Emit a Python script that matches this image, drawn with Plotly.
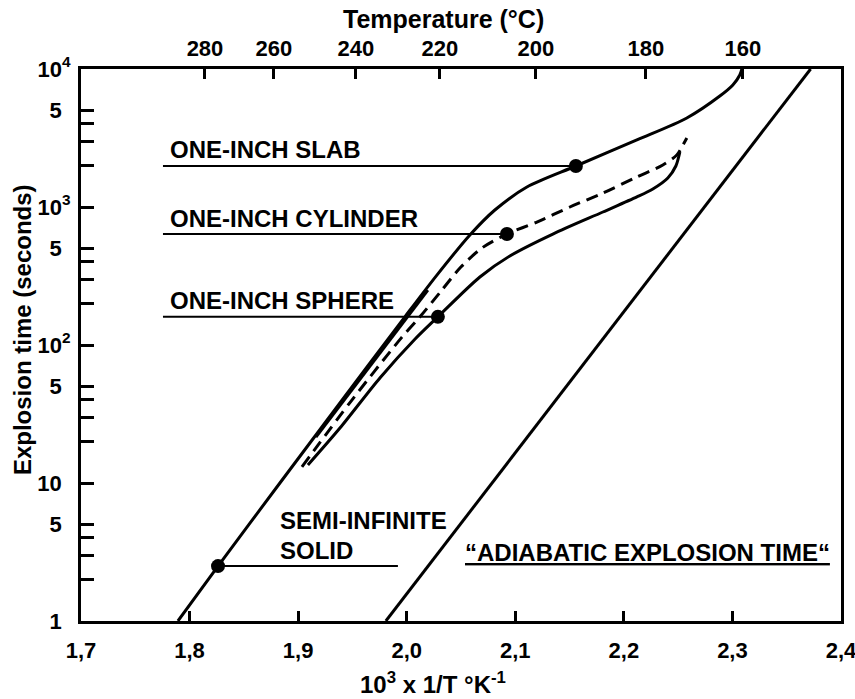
import plotly.graph_objects as go

# ---------------- data (x = 10^3/T in K^-1, y = explosion time in s) ----------------
slab_x = [1.7893, 1.8262, 1.8832, 1.9385, 1.9983, 2.0278, 2.0582, 2.0812, 2.1107,
          2.1558, 2.2120, 2.2580, 2.2884, 2.3004, 2.3068, 2.3087]
slab_t = [1.0, 2.5, 10.0, 38, 160, 321, 627, 951, 1396,
          1982, 3060, 4416, 6370, 7660, 9050, 10000]

cyl_x = [1.9035, 1.9495, 1.9956, 2.0122, 2.0324, 2.0499, 2.0692, 2.0923, 2.1199,
         2.1503, 2.1807, 2.2120, 2.2359, 2.2488, 2.2534, 2.2580]
cyl_t = [13.1, 39.9, 114, 160, 250, 367, 504, 637, 778,
         1000, 1262, 1650, 2016, 2381, 2720, 3162]

sph_x = [1.9090, 1.9385, 1.9753, 2.0075, 2.0287, 2.0674, 2.0950, 2.1346, 2.1807,
         2.2120, 2.2267, 2.2405, 2.2479, 2.2516]
sph_t = [13.5, 25.0, 57.7, 110, 160, 311, 442, 637, 920,
         1182, 1350, 1622, 1982, 2504]

short_x = [1.9164, 2.0195]
short_t = [21.5, 250]

adiab_x = [1.9808, 2.3720]
adiab_t = [1, 10000]

dot_names = ["ONE-INCH SLAB", "ONE-INCH CYLINDER", "ONE-INCH SPHERE", "SEMI-INFINITE SOLID"]
dot_x = [2.1558, 2.0923, 2.0287, 1.8262]
dot_t = [1982, 637, 160, 2.5]
label_line_x0 = [1.7755, 1.7755, 1.7755, 1.8262]
label_line_x1 = [2.1558, 2.0923, 2.0287, 1.9919]

x_ticks = [1.7, 1.8, 1.9, 2.0, 2.1, 2.2, 2.3, 2.4]
x_ticktext = ["1,7", "1,8", "1,9", "2,0", "2,1", "2,2", "2,3", "2,4"]

top_temps = ["280", "260", "240", "220", "200", "180", "160"]
top_pos = [1.8142, 1.8777, 1.9532, 2.0306, 2.1190, 2.2203, 2.3096]

PAD = "\u2009\u2009"
y_ticks = [1, 2, 3, 4, 5, 10, 20, 30, 40, 50, 100, 200, 300, 400, 500,
           1000, 2000, 3000, 4000, 5000, 10000]
y_ticktext = ["1" + PAD, "", "", "", "5" + PAD, "10" + PAD, "", "", "", "5" + PAD,
              "10<sup>2</sup>", "", "", "", "5" + PAD,
              "10<sup>3</sup>", "", "", "", "5" + PAD, "10<sup>4</sup>"]

FONT = "Liberation Sans, Arial, Helvetica, sans-serif"

fig = go.Figure()

curve = dict(color="black", width=3, shape="spline", smoothing=0.8)
fig.add_trace(go.Scatter(x=slab_x, y=slab_t, mode="lines", line=curve, hoverinfo="skip"))
fig.add_trace(go.Scatter(x=cyl_x, y=cyl_t, mode="lines",
                         line=dict(color="black", width=3, shape="spline", smoothing=0.8,
                                   dash="12px,7px"), hoverinfo="skip"))
fig.add_trace(go.Scatter(x=sph_x, y=sph_t, mode="lines", line=curve, hoverinfo="skip"))
fig.add_trace(go.Scatter(x=short_x, y=short_t, mode="lines",
                         line=dict(color="black", width=3), hoverinfo="skip"))
fig.add_trace(go.Scatter(x=adiab_x, y=adiab_t, mode="lines",
                         line=dict(color="black", width=3), hoverinfo="skip"))

# label leader lines
for x0, x1, t in zip(label_line_x0, label_line_x1, dot_t):
    fig.add_trace(go.Scatter(x=[x0, x1], y=[t, t], mode="lines",
                             line=dict(color="black", width=2), hoverinfo="skip"))

fig.add_trace(go.Scatter(x=dot_x, y=dot_t, mode="markers", text=dot_names,
                         marker=dict(color="black", size=14), hoverinfo="text"))

# invisible trace to carry the top (temperature) axis
fig.add_trace(go.Scatter(x=top_pos, y=[1] * len(top_pos), xaxis="x2", mode="markers",
                         marker=dict(opacity=0), hoverinfo="skip"))

axis_common = dict(showgrid=False, zeroline=False, ticks="inside", tickwidth=3,
                   tickcolor="black", linecolor="black", linewidth=3,
                   ticklabeloverflow="allow", automargin=False,
                   tickfont=dict(family=FONT, size=22, color="black", weight="bold"))

fig.update_layout(
    width=855, height=699,
    margin=dict(l=81, r=14, t=69, b=78, autoexpand=False),
    plot_bgcolor="white", paper_bgcolor="white",
    showlegend=False,
    font=dict(family=FONT, size=22, color="black", weight="bold"),
    xaxis=dict(range=[1.7, 2.4], tickvals=x_ticks, ticktext=x_ticktext,
               showline=True, mirror=True, ticklen=10, ticklabelstandoff=8,
               **axis_common),
    xaxis2=dict(range=[1.7, 2.4], overlaying="x", side="top", tickvals=top_pos,
                ticktext=top_temps, showline=False, ticklen=10, ticklabelstandoff=8,
                **axis_common),
    yaxis=dict(type="log", range=[0, 4], tickvals=y_ticks, ticktext=y_ticktext,
               showline=True, mirror=True, ticklen=13, ticklabelstandoff=3,
               **axis_common),
)

lab_font = dict(family=FONT, size=24, color="black", weight="bold")
annots = [
    dict(text="<b>ONE-INCH SLAB</b>", x=1.7801, y=3.417),
    dict(text="<b>ONE-INCH CYLINDER</b>", x=1.7801, y=2.920),
    dict(text="<b>ONE-INCH SPHERE</b>", x=1.7801, y=2.319),
    dict(text="<b>SEMI-INFINITE</b>", x=1.8814, y=0.725),
    dict(text="<b>SOLID</b>", x=1.8814, y=0.514),
    dict(text="<b><u>“ADIABATIC EXPLOSION TIME“</u></b>", x=2.0517, y=0.493),
]
for a in annots:
    fig.add_annotation(xref="x", yref="y", xanchor="left", yanchor="middle",
                       showarrow=False, font=lab_font, **a)

fig.add_annotation(text="<b>Explosion time (seconds)</b>", xref="paper", yref="paper",
                   x=-0.0776, y=0.527, textangle=-90, showarrow=False,
                   xanchor="center", yanchor="middle",
                   font=dict(family=FONT, size=24, color="black", weight="bold"))
fig.add_annotation(text="<b>10<sup>3</sup> x 1/T °K<sup>-1</sup></b>", xref="paper", yref="paper",
                   x=0.463, y=-0.1123, showarrow=False, xanchor="center", yanchor="middle",
                   font=dict(family=FONT, size=24, color="black", weight="bold"))
fig.add_annotation(text="<b>Temperature (°C)</b>", xref="paper", yref="paper",
                   x=0.477, y=1.0906, showarrow=False, xanchor="center", yanchor="middle",
                   font=dict(family=FONT, size=25, color="black", weight="bold"))

fig.write_html("out.html")
